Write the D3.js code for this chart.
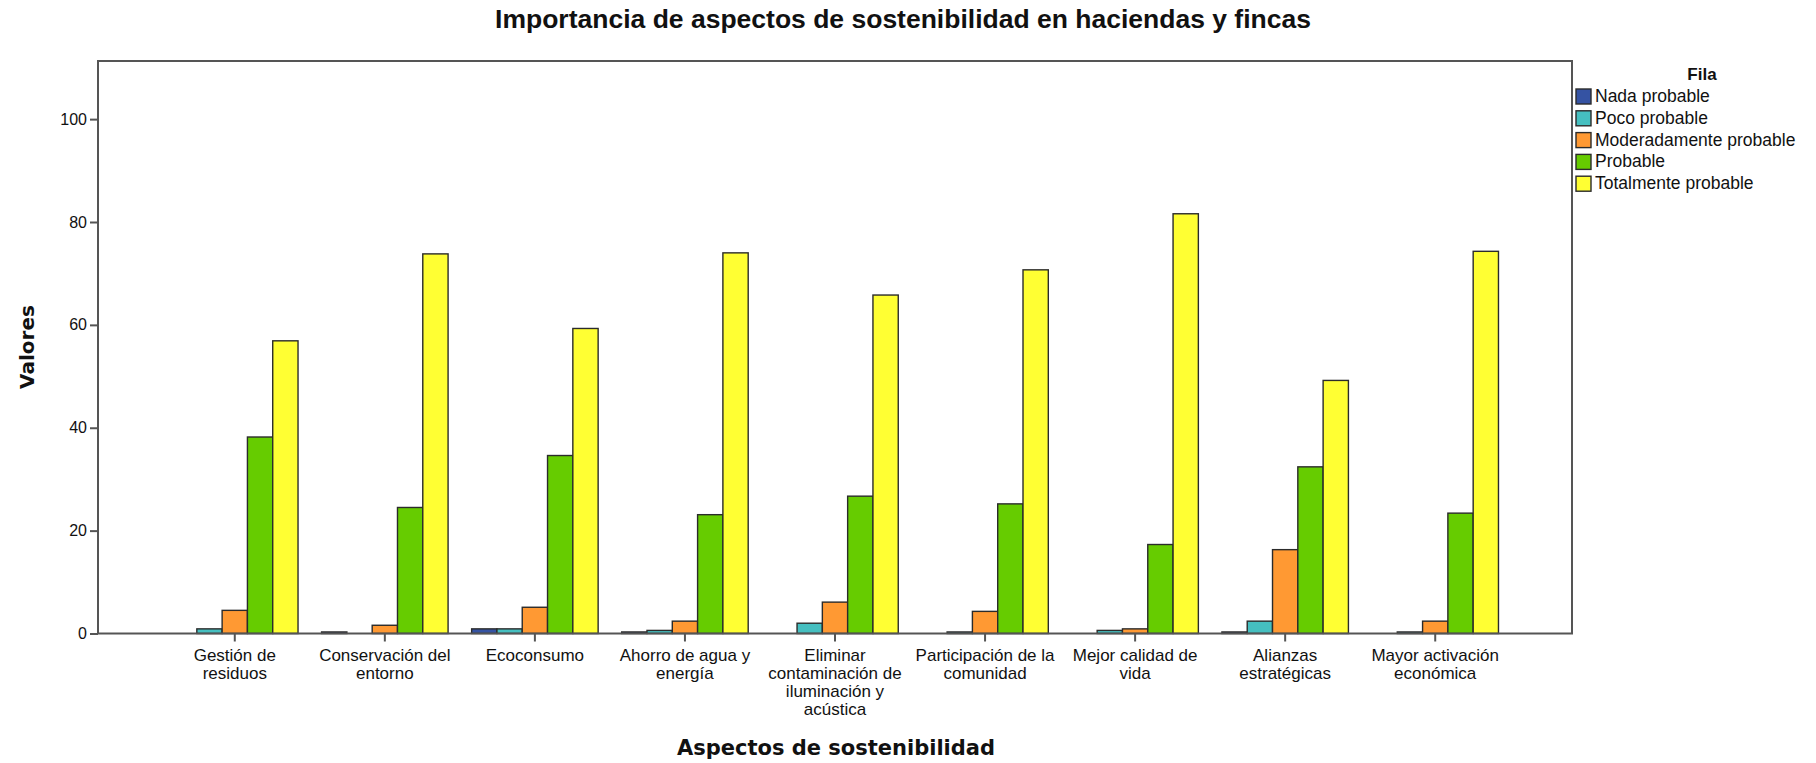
<!DOCTYPE html>
<html lang="es">
<head>
<meta charset="utf-8">
<title>Importancia de aspectos de sostenibilidad</title>
<script src="https://d3js.org/d3.v7.min.js"></script>
<style>
  body { margin: 0; background: #fff; }
  svg text { fill: #111; }
</style>
</head>
<body>
<div id="chart"></div>
<script>
var categories = [
  ["Gestión de", "residuos"],
  ["Conservación del", "entorno"],
  ["Ecoconsumo"],
  ["Ahorro de agua y", "energía"],
  ["Eliminar", "contaminación de", "iluminación y", "acústica"],
  ["Participación de la", "comunidad"],
  ["Mejor calidad de", "vida"],
  ["Alianzas", "estratégicas"],
  ["Mayor activación", "económica"]
];
var series = ["Nada probable", "Poco probable", "Moderadamente probable", "Probable", "Totalmente probable"];
var nadaProbable      = [0,    0.3, 0.9, 0.3, 0,    0,    0,    0.3,  0];
var pocoProbable      = [0.9,  0,   0.9, 0.6, 2.0,  0.3,  0.6,  2.4,  0.3];
var moderadamente     = [4.5,  1.6, 5.1, 2.4, 6.1,  4.3,  0.9,  16.3, 2.4];
var probable          = [38.2, 24.5, 34.6, 23.1, 26.7, 25.2, 17.3, 32.4, 23.4];
var totalmente        = [56.9, 73.8, 59.3, 74.0, 65.8, 70.7, 81.6, 49.2, 74.3];
var yTicks = [0, 20, 40, 60, 80, 100];
var colors = ["#3553a3", "#45bfc0", "#ff9933", "#66cc00", "#ffff33"];

var values = [nadaProbable, pocoProbable, moderadamente, probable, totalmente];

var W = 1816, H = 763;
var margin = { top: 61, left: 98, right: 244, bottom: 129.5 };
var width = W - margin.left - margin.right,
    height = H - margin.top - margin.bottom;

var svg = d3.select("#chart").append("svg")
    .attr("width", W).attr("height", H)
    .style("font-family", "'Liberation Sans', Arial, sans-serif");

var g = svg.append("g").attr("transform", "translate(" + margin.left + "," + margin.top + ")");

var keys = categories.map(function(d) { return d.join(" "); });

var x0 = d3.scaleBand().domain(keys).range([0, width])
    .paddingInner(0.157).paddingOuter(0.49);
var x1 = d3.scaleBand().domain(series).range([0, x0.bandwidth()]);
var y = d3.scaleLinear().domain([0, 111.3]).range([height, 0]);

// bars
var groups = g.selectAll(".grp").data(keys).enter().append("g")
    .attr("transform", function(d) { return "translate(" + x0(d) + ",0)"; });

groups.selectAll("rect")
    .data(function(d, i) { return series.map(function(s, j) { return { s: s, v: values[j][i], c: colors[j] }; }); })
    .enter().append("rect")
    .filter(function(d) { return d.v > 0; })
    .attr("x", function(d) { return x1(d.s); })
    .attr("y", function(d) { return y(d.v); })
    .attr("width", x1.bandwidth())
    .attr("height", function(d) { return y(0) - y(d.v); })
    .attr("fill", function(d) { return d.c; })
    .attr("stroke", "#2b2b2b")
    .attr("stroke-width", 1.4);

// frame
g.append("rect").attr("width", width).attr("height", height)
    .attr("fill", "none").attr("stroke", "#555").attr("stroke-width", 2);

// y axis
var yAxis = g.append("g").call(d3.axisLeft(y).tickValues(yTicks).tickSize(8).tickPadding(3));
yAxis.select(".domain").remove();
yAxis.selectAll("line").attr("stroke", "#555").attr("stroke-width", 2);
yAxis.selectAll("text").style("font-size", "16px").attr("fill", "#111");

// x axis
var xAxis = g.append("g").attr("transform", "translate(0," + height + ")")
    .call(d3.axisBottom(x0).tickSize(8).tickFormat(""));
xAxis.select(".domain").remove();
xAxis.selectAll("line").attr("stroke", "#555").attr("stroke-width", 2);

keys.forEach(function(k, i) {
  var t = g.append("text")
      .attr("x", x0(k) + x0.bandwidth() / 2)
      .attr("y", height + 27)
      .attr("text-anchor", "middle")
      .style("font-size", "17px");
  categories[i].forEach(function(line, j) {
    t.append("tspan").attr("x", x0(k) + x0.bandwidth() / 2)
        .attr("dy", j === 0 ? 0 : 18).text(line);
  });
});

// titles
svg.append("text")
    .attr("x", 903).attr("y", 28)
    .attr("text-anchor", "middle")
    .style("font-weight", "bold").style("font-size", "26.5px")
    .text("Importancia de aspectos de sostenibilidad en haciendas y fincas");

svg.append("text")
    .attr("x", 836).attr("y", 755)
    .attr("text-anchor", "middle")
    .style("font-family", "'DejaVu Sans', sans-serif")
    .style("font-weight", "bold").style("font-size", "21px")
    .text("Aspectos de sostenibilidad");

svg.append("text")
    .attr("transform", "translate(34,347) rotate(-90)")
    .attr("text-anchor", "middle")
    .style("font-family", "'DejaVu Sans', sans-serif")
    .style("font-weight", "bold").style("font-size", "20px")
    .text("Valores");

// legend
var lg = svg.append("g").attr("transform", "translate(1576,0)");
lg.append("text").attr("x", 126).attr("y", 80)
    .attr("text-anchor", "middle")
    .style("font-weight", "bold").style("font-size", "17px")
    .text("Fila");
series.forEach(function(s, i) {
  var yy = 89 + i * 21.8;
  lg.append("rect").attr("x", 0).attr("y", yy).attr("width", 15).attr("height", 15)
      .attr("fill", colors[i]).attr("stroke", "#2b2b2b").attr("stroke-width", 1.4);
  lg.append("text").attr("x", 19).attr("y", yy + 13)
      .style("font-size", "17.5px").text(s);
});
</script>
</body>
</html>
